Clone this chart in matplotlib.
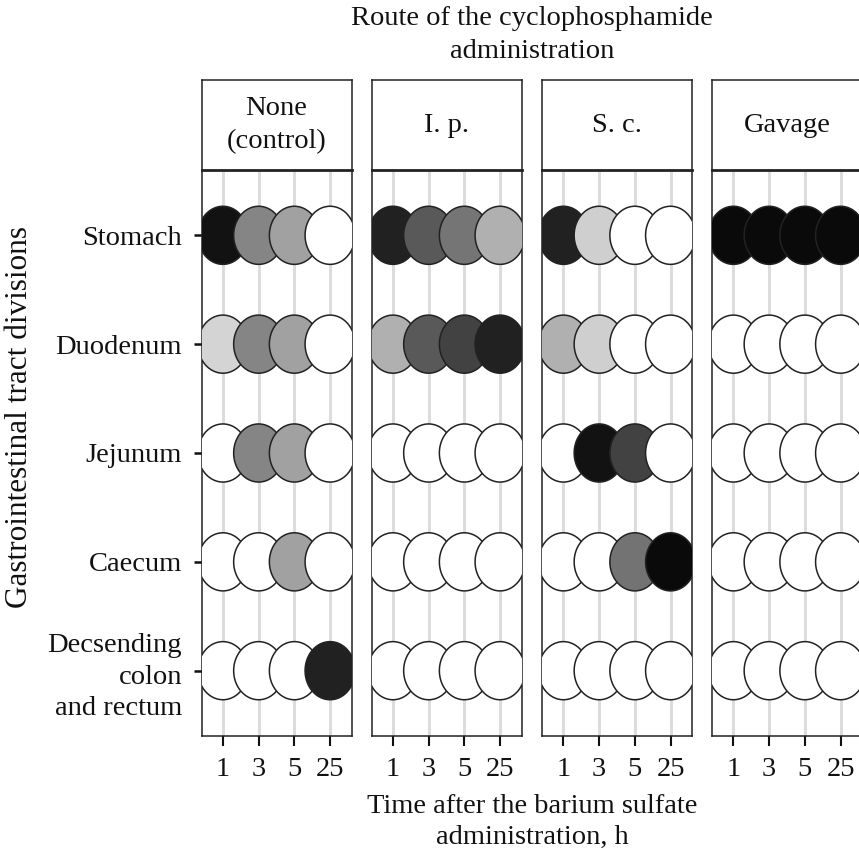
import numpy as np
import matplotlib
matplotlib.use("Agg")
import matplotlib.pyplot as plt
from matplotlib.path import Path
from matplotlib.markers import MarkerStyle

plt.rcParams['font.family'] = ['Liberation Serif', 'DejaVu Serif']

# data: shading intensity of each cell (0 = white, 1 = black)
divisions = ["Stomach", "Duodenum", "Jejunum", "Caecum", "Decsending\ncolon\nand rectum"]
times = ["1", "3", "5", "25"]
routes = ["None\n(control)", "I. p.", "S. c.", "Gavage"]

control = [[0.93, 0.48, 0.37, 0.00],
           [0.17, 0.48, 0.37, 0.00],
           [0.00, 0.48, 0.37, 0.00],
           [0.00, 0.00, 0.37, 0.00],
           [0.00, 0.00, 0.00, 0.87]]
ip = [[0.87, 0.65, 0.54, 0.31],
      [0.31, 0.65, 0.74, 0.87],
      [0.00, 0.00, 0.00, 0.00],
      [0.00, 0.00, 0.00, 0.00],
      [0.00, 0.00, 0.00, 0.00]]
sc = [[0.87, 0.19, 0.00, 0.00],
      [0.31, 0.19, 0.00, 0.00],
      [0.00, 0.93, 0.74, 0.00],
      [0.00, 0.00, 0.55, 0.96],
      [0.00, 0.00, 0.00, 0.00]]
gavage = [[0.96, 0.96, 0.96, 0.96],
          [0.00, 0.00, 0.00, 0.00],
          [0.00, 0.00, 0.00, 0.00],
          [0.00, 0.00, 0.00, 0.00],
          [0.00, 0.00, 0.00, 0.00]]
values = [control, ip, sc, gavage]

W, H = 859, 850
fig = plt.figure(figsize=(W / 100, H / 100), dpi=100)


def box(x0, top, w, h):
    return [x0 / W, (H - top - h) / H, w / W, h / H]


# slightly squashed circle marker (the original is a bit narrower than tall)
t = np.linspace(0, 2 * np.pi, 100)
ell = Path(np.column_stack([0.86 * np.cos(t), np.sin(t)]), closed=True)
marker = MarkerStyle(ell)

lefts = [201.5, 371.5, 542, 712]
FS = 20.5
ink = '#111111'

for k, (left, route, vals) in enumerate(zip(lefts, routes, values)):
    ax = fig.add_axes(box(left, 170, 150, 566))
    vals = np.array(vals)
    for r in range(len(divisions)):
        grey = [str(1 - v) for v in vals[r]]
        ax.scatter(range(len(times)), [r] * len(times), s=1750, marker=marker,
                   c=grey, edgecolors='#222222', linewidths=1.1, zorder=3)
    ax.set_xlim(-0.6, 3.6)
    ax.set_ylim(4.6, -0.6)
    ax.set_xticks(range(len(times)))
    ax.set_xticklabels(times)
    ax.set_yticks(range(len(divisions)))
    ax.set_yticklabels(divisions, ha='right', linespacing=1.35)
    ax.grid(axis='x', color='#dcdcdc', lw=2.2)
    ax.set_axisbelow(True)
    ax.tick_params(axis='x', length=7, width=1.5, pad=8, labelsize=FS,
                   color=ink, labelcolor=ink)
    ax.tick_params(axis='y', length=6, width=1.8, pad=8, labelsize=FS,
                   color=ink, labelcolor=ink)
    if k > 0:
        ax.tick_params(axis='y', left=False, labelleft=False)
    for s in ax.spines.values():
        s.set_color('#222222')
        s.set_linewidth(1.1)

    strip = fig.add_axes(box(left, 80, 150, 90))
    strip.set_xticks([])
    strip.set_yticks([])
    for s in strip.spines.values():
        s.set_color('#222222')
        s.set_linewidth(1.1)
    strip.spines['bottom'].set_linewidth(2.0)
    strip.text(0.5, 0.5, route, ha='center', va='center', fontsize=FS,
               color=ink, linespacing=1.4, transform=strip.transAxes)

fig.text(532 / W, 1 - 35 / H, "Route of the cyclophosphamide\nadministration",
         ha='center', va='center', fontsize=FS, color=ink, linespacing=1.45)
fig.text(532 / W, 1 - 822 / H, "Time after the barium sulfate\nadministration, h",
         ha='center', va='center', fontsize=FS, color=ink, linespacing=1.3)
fig.text(20 / W, 1 - 417 / H, "Gastrointestinal tract divisions", rotation=90,
         ha='center', va='center', fontsize=22.5, color=ink)

fig.savefig("out.png", dpi=100, facecolor='white')
